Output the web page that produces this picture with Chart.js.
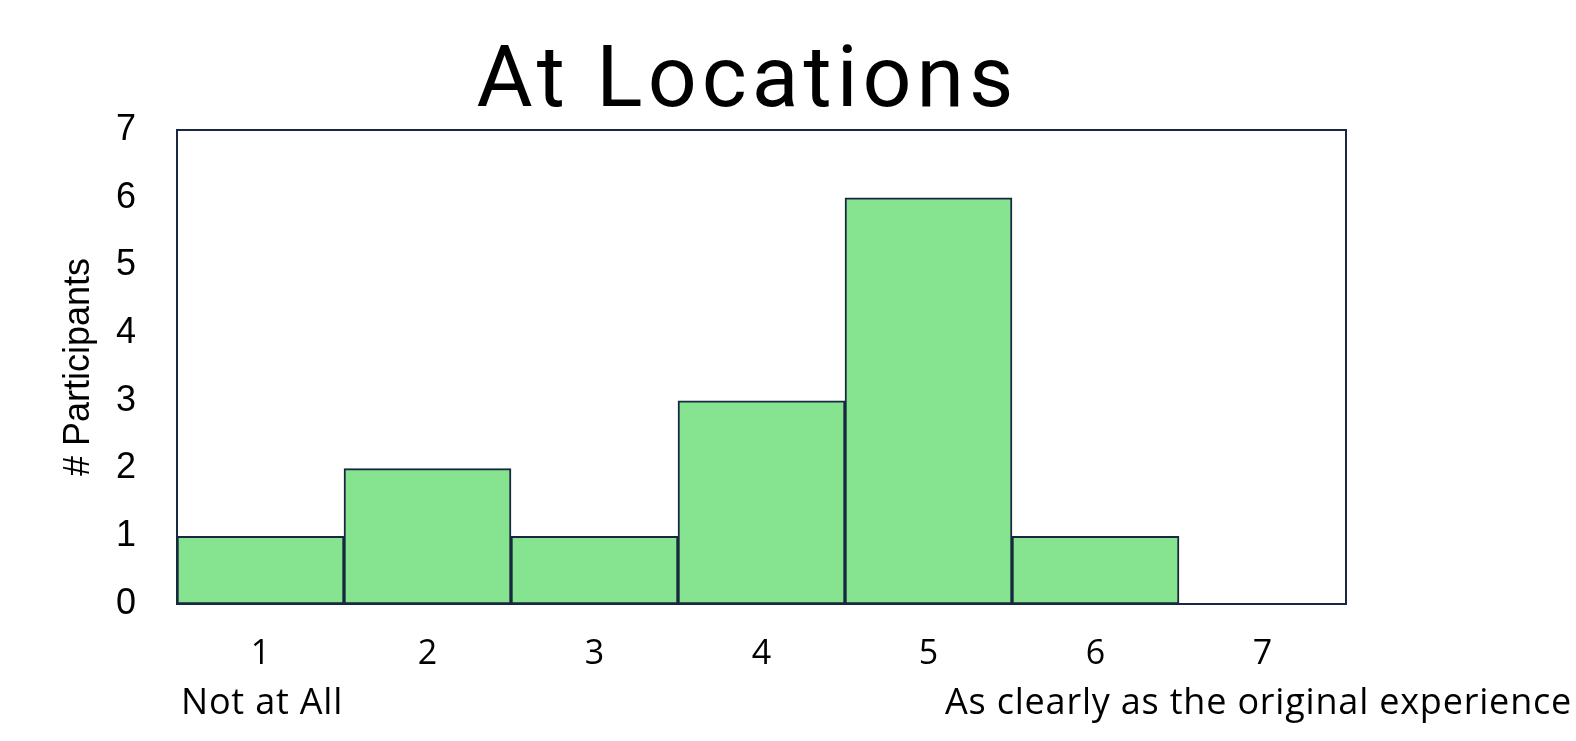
<!DOCTYPE html>
<html>
<head>
<meta charset="utf-8">
<script src="https://cdn.jsdelivr.net/npm/chart.js@4"></script>
<style>
  html, body { margin: 0; padding: 0; background: #ffffff; }
  #wrap { width: 1576px; height: 741px; position: relative; }
</style>
</head>
<body>
<div id="wrap"><canvas id="chart" width="1576" height="741"></canvas></div>
<script>
// Survey responses: how clearly the memory was recalled at the locations
const chartTitle = 'At Locations';
const ratingLabels = ['1', '2', '3', '4', '5', '6', '7'];
const participantCounts = [1, 2, 1, 3, 6, 1, 0];
const yTickMax = 7;
const yAxisTitle = '# Participants';
const lowAnchor = 'Not at All';
const highAnchor = 'As clearly as the original experience';

const navy = '#17283f';
const barGreen = '#86e38f';

// Frame around the plot plus the title and the scale anchor texts
const decorations = {
  id: 'decorations',
  afterDatasetsDraw(chart) {
    const { ctx, chartArea: a } = chart;
    ctx.save();
    ctx.strokeStyle = navy;
    ctx.lineWidth = 2;
    ctx.strokeRect(a.left, a.top, a.right - a.left, a.bottom - a.top);
    ctx.restore();
  },
  afterDraw(chart) {
    const { ctx, chartArea: a } = chart;
    ctx.save();
    ctx.fillStyle = '#000000';
    ctx.textBaseline = 'alphabetic';

    ctx.font = '400 86px Roboto';
    ctx.letterSpacing = '5px';
    ctx.textAlign = 'center';
    ctx.fillText(chartTitle, a.left + (a.right - a.left) * 0.488, 106);

    ctx.font = '400 36px "Open Sans"';
    ctx.letterSpacing = '0.8px';
    ctx.textAlign = 'left';
    ctx.fillText(lowAnchor, a.left + 4, 714);
    ctx.fillText(highAnchor, a.left + 768, 714);
    ctx.restore();
  }
};

new Chart(document.getElementById('chart'), {
  type: 'bar',
  data: {
    labels: ratingLabels,
    datasets: [{
      data: participantCounts,
      backgroundColor: barGreen,
      borderColor: navy,
      borderWidth: 2,
      borderSkipped: false,
      barPercentage: 1.0,
      categoryPercentage: 1.0
    }]
  },
  options: {
    responsive: false,
    animation: false,
    layout: { padding: { top: 130, right: 230, left: 0, bottom: 0 } },
    plugins: {
      legend: { display: false },
      title: { display: false },
      tooltip: { enabled: false }
    },
    scales: {
      x: {
        grid: { display: false, drawTicks: false },
        border: { display: true, color: navy, width: 2 },
        ticks: {
          color: '#000000',
          padding: 30,
          font: { family: '"Open Sans"', size: 34 }
        },
        afterFit(scale) { scale.height = 137; }
      },
      y: {
        min: 0,
        max: yTickMax,
        grid: { display: false, drawTicks: false },
        border: { display: true, color: navy, width: 2 },
        ticks: {
          stepSize: 1,
          color: '#000000',
          padding: 41,
          font: { family: '"Liberation Sans"', size: 36 }
        },
        title: {
          display: true,
          text: yAxisTitle,
          color: '#000000',
          font: { family: '"Liberation Sans"', size: 36 },
          padding: { top: 57, bottom: 0 }
        },
        afterFit(scale) { scale.width = 177; }
      }
    }
  },
  plugins: [decorations]
});
</script>
</body>
</html>
